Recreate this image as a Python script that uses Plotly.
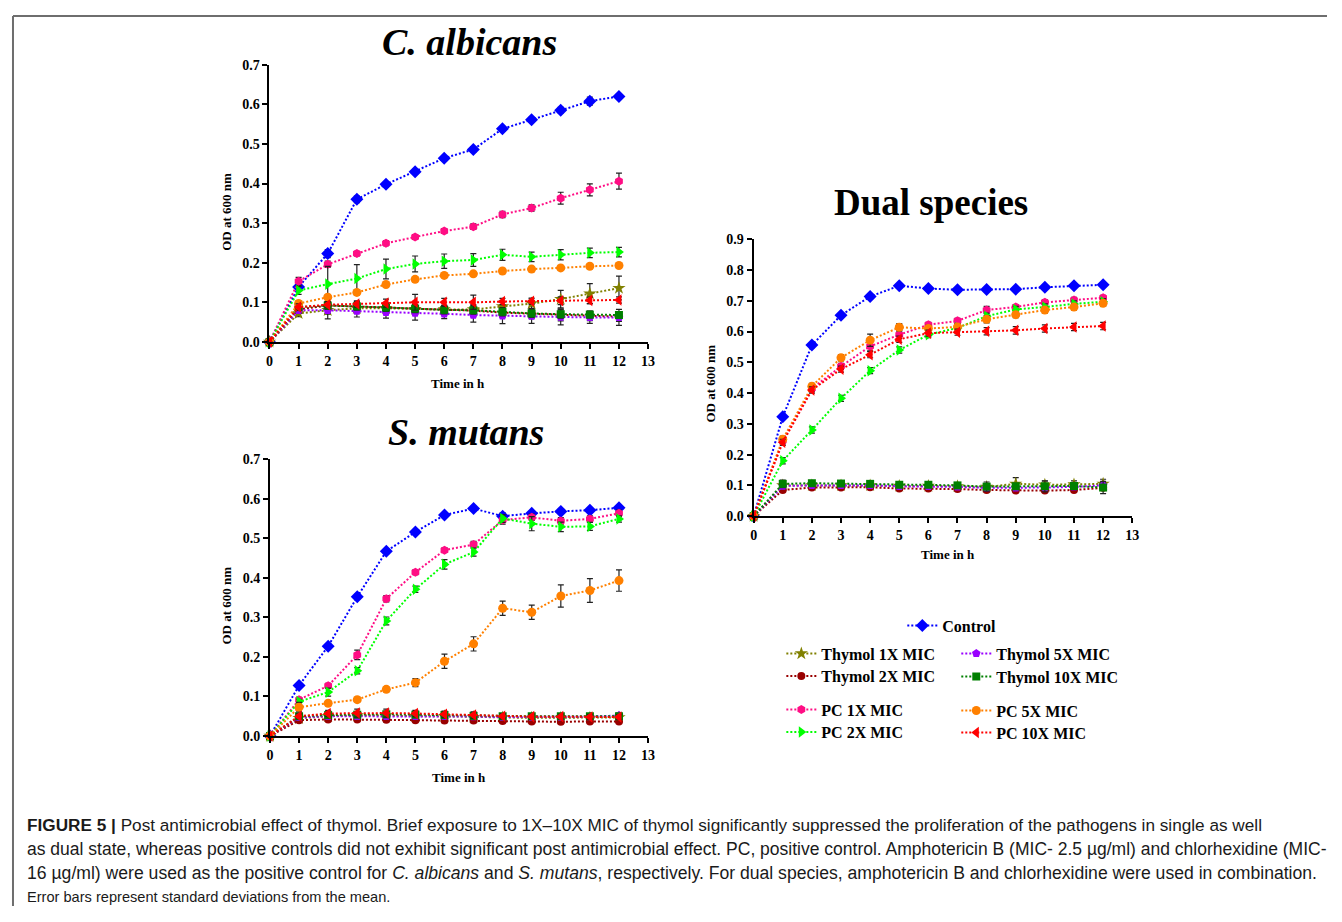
import plotly.graph_objects as go

# ---------------- data ----------------
time_h = [0, 1, 2, 3, 4, 5, 6, 7, 8, 9, 10, 11, 12]
x_ticks = [0, 1, 2, 3, 4, 5, 6, 7, 8, 9, 10, 11, 12, 13]

series_names = ["Control", "Thymol 1X MIC", "Thymol 2X MIC", "Thymol 5X MIC", "Thymol 10X MIC",
                "PC 1X MIC", "PC 2X MIC", "PC 5X MIC", "PC 10X MIC"]

# C. albicans
ca_control = [0, 0.139, 0.223, 0.360, 0.398, 0.430, 0.464, 0.486, 0.538, 0.561, 0.585, 0.608, 0.620]
ca_control_sd = [0, 0.005, 0.010, 0.008, 0.007, 0.006, 0.006, 0.007, 0.006, 0.006, 0.007, 0.010, 0.007]
ca_thy1 = [0, 0.072, 0.080, 0.085, 0.085, 0.083, 0.082, 0.082, 0.090, 0.097, 0.108, 0.122, 0.136]
ca_thy1_sd = [0, 0.008, 0.010, 0.010, 0.010, 0.010, 0.010, 0.010, 0.010, 0.012, 0.022, 0.025, 0.030]
ca_thy2 = [0, 0.082, 0.092, 0.090, 0.087, 0.084, 0.081, 0.079, 0.074, 0.071, 0.068, 0.066, 0.064]
ca_thy2_sd = [0, 0.010, 0.020, 0.012, 0.012, 0.015, 0.012, 0.015, 0.012, 0.012, 0.015, 0.012, 0.012]
ca_thy5 = [0, 0.080, 0.080, 0.078, 0.075, 0.073, 0.071, 0.068, 0.066, 0.065, 0.063, 0.062, 0.062]
ca_thy5_sd = [0, 0.008, 0.022, 0.015, 0.015, 0.018, 0.012, 0.018, 0.020, 0.018, 0.020, 0.015, 0.020]
ca_thy10 = [0, 0.088, 0.092, 0.090, 0.087, 0.084, 0.081, 0.080, 0.076, 0.072, 0.070, 0.069, 0.068]
ca_thy10_sd = [0, 0.008, 0.010, 0.010, 0.010, 0.010, 0.010, 0.010, 0.010, 0.010, 0.010, 0.008, 0.008]
ca_pc1 = [0, 0.153, 0.196, 0.223, 0.249, 0.265, 0.280, 0.291, 0.322, 0.338, 0.363, 0.384, 0.406]
ca_pc1_sd = [0, 0.010, 0.008, 0.006, 0.006, 0.006, 0.006, 0.007, 0.008, 0.008, 0.015, 0.015, 0.020]
ca_pc2 = [0, 0.130, 0.146, 0.160, 0.184, 0.197, 0.204, 0.207, 0.220, 0.215, 0.220, 0.225, 0.227]
ca_pc2_sd = [0, 0.010, 0.045, 0.035, 0.025, 0.020, 0.018, 0.016, 0.014, 0.012, 0.013, 0.012, 0.012]
ca_pc5 = [0, 0.097, 0.113, 0.125, 0.145, 0.158, 0.168, 0.172, 0.179, 0.184, 0.187, 0.191, 0.193]
ca_pc5_sd = [0, 0.006, 0.006, 0.006, 0.006, 0.006, 0.005, 0.005, 0.005, 0.005, 0.005, 0.005, 0.005]
ca_pc10 = [0, 0.088, 0.094, 0.096, 0.098, 0.100, 0.100, 0.100, 0.102, 0.103, 0.104, 0.105, 0.106]
ca_pc10_sd = [0, 0.008, 0.008, 0.008, 0.010, 0.020, 0.010, 0.018, 0.008, 0.008, 0.010, 0.008, 0.008]

# S. mutans
sm_control = [0, 0.128, 0.227, 0.352, 0.467, 0.516, 0.559, 0.575, 0.556, 0.563, 0.568, 0.571, 0.577]
sm_control_sd = [0, 0.005, 0.006, 0.006, 0.006, 0.005, 0.005, 0.006, 0.008, 0.006, 0.005, 0.005, 0.005]
sm_thy1 = [0, 0.045, 0.050, 0.052, 0.052, 0.050, 0.050, 0.048, 0.047, 0.046, 0.046, 0.046, 0.047]
sm_thy1_sd = [0, 0.006, 0.008, 0.008, 0.010, 0.008, 0.008, 0.008, 0.006, 0.006, 0.006, 0.006, 0.006]
sm_thy2 = [0, 0.040, 0.042, 0.042, 0.041, 0.040, 0.039, 0.039, 0.038, 0.037, 0.036, 0.037, 0.037]
sm_thy2_sd = [0, 0.005, 0.005, 0.005, 0.005, 0.005, 0.005, 0.005, 0.005, 0.005, 0.005, 0.005, 0.005]
sm_thy5 = [0, 0.047, 0.050, 0.050, 0.050, 0.050, 0.050, 0.049, 0.048, 0.048, 0.048, 0.049, 0.052]
sm_thy5_sd = [0, 0.006, 0.006, 0.006, 0.006, 0.006, 0.006, 0.006, 0.006, 0.006, 0.006, 0.006, 0.006]
sm_thy10 = [0, 0.050, 0.053, 0.054, 0.055, 0.054, 0.053, 0.051, 0.050, 0.050, 0.050, 0.050, 0.050]
sm_thy10_sd = [0, 0.006, 0.006, 0.006, 0.006, 0.006, 0.006, 0.006, 0.006, 0.006, 0.006, 0.006, 0.006]
sm_pc1 = [0, 0.092, 0.127, 0.205, 0.347, 0.414, 0.470, 0.484, 0.546, 0.553, 0.544, 0.549, 0.563]
sm_pc1_sd = [0, 0.006, 0.006, 0.012, 0.008, 0.006, 0.006, 0.008, 0.010, 0.008, 0.008, 0.008, 0.008]
sm_pc2 = [0, 0.087, 0.111, 0.165, 0.291, 0.371, 0.434, 0.465, 0.550, 0.537, 0.529, 0.530, 0.549]
sm_pc2_sd = [0, 0.006, 0.010, 0.008, 0.010, 0.008, 0.012, 0.010, 0.010, 0.018, 0.012, 0.010, 0.008]
sm_pc5 = [0, 0.073, 0.083, 0.092, 0.118, 0.135, 0.189, 0.233, 0.323, 0.313, 0.354, 0.368, 0.393]
sm_pc5_sd = [0, 0.012, 0.006, 0.006, 0.006, 0.010, 0.018, 0.018, 0.018, 0.018, 0.028, 0.030, 0.027]
sm_pc10 = [0, 0.050, 0.057, 0.058, 0.058, 0.057, 0.055, 0.053, 0.050, 0.049, 0.049, 0.048, 0.048]
sm_pc10_sd = [0, 0.006, 0.008, 0.010, 0.010, 0.008, 0.008, 0.008, 0.006, 0.006, 0.006, 0.006, 0.006]

# Dual species
ds_control = [0, 0.323, 0.556, 0.653, 0.714, 0.749, 0.740, 0.736, 0.737, 0.738, 0.744, 0.749, 0.752]
ds_control_sd = [0, 0.008, 0.008, 0.006, 0.008, 0.006, 0.006, 0.006, 0.006, 0.006, 0.006, 0.006, 0.006]
ds_thy1 = [0, 0.100, 0.100, 0.100, 0.100, 0.098, 0.098, 0.097, 0.095, 0.105, 0.102, 0.103, 0.105]
ds_thy1_sd = [0, 0.010, 0.008, 0.008, 0.008, 0.008, 0.008, 0.008, 0.010, 0.020, 0.012, 0.012, 0.015]
ds_thy2 = [0, 0.085, 0.093, 0.093, 0.094, 0.090, 0.090, 0.088, 0.085, 0.083, 0.083, 0.085, 0.092]
ds_thy2_sd = [0, 0.006, 0.006, 0.006, 0.006, 0.006, 0.006, 0.006, 0.006, 0.006, 0.006, 0.006, 0.006]
ds_thy5 = [0, 0.098, 0.100, 0.100, 0.100, 0.097, 0.097, 0.095, 0.092, 0.092, 0.093, 0.095, 0.100]
ds_thy5_sd = [0, 0.008, 0.008, 0.008, 0.008, 0.008, 0.008, 0.008, 0.008, 0.008, 0.008, 0.008, 0.008]
ds_thy10 = [0, 0.105, 0.107, 0.106, 0.105, 0.102, 0.102, 0.100, 0.096, 0.097, 0.097, 0.098, 0.093]
ds_thy10_sd = [0, 0.012, 0.008, 0.008, 0.008, 0.008, 0.008, 0.008, 0.015, 0.010, 0.018, 0.012, 0.020]
ds_pc1 = [0, 0.245, 0.415, 0.487, 0.552, 0.590, 0.622, 0.635, 0.670, 0.680, 0.695, 0.703, 0.710]
ds_pc1_sd = [0, 0.010, 0.010, 0.010, 0.015, 0.012, 0.008, 0.008, 0.012, 0.008, 0.008, 0.008, 0.008]
ds_pc2 = [0, 0.180, 0.280, 0.383, 0.473, 0.540, 0.590, 0.612, 0.650, 0.672, 0.680, 0.690, 0.697]
ds_pc2_sd = [0, 0.010, 0.010, 0.010, 0.010, 0.010, 0.010, 0.010, 0.010, 0.010, 0.010, 0.010, 0.010]
ds_pc5 = [0, 0.250, 0.422, 0.515, 0.572, 0.614, 0.610, 0.615, 0.640, 0.655, 0.670, 0.680, 0.692]
ds_pc5_sd = [0, 0.010, 0.010, 0.010, 0.020, 0.012, 0.010, 0.010, 0.012, 0.010, 0.010, 0.010, 0.010]
ds_pc10 = [0, 0.240, 0.410, 0.478, 0.525, 0.575, 0.595, 0.598, 0.601, 0.604, 0.610, 0.615, 0.618]
ds_pc10_sd = [0, 0.010, 0.010, 0.010, 0.010, 0.010, 0.010, 0.010, 0.012, 0.012, 0.012, 0.012, 0.012]

panel_titles = ["<b><i>C. albicans</i></b>", "<b><i>S. mutans</i></b>", "<b>Dual species</b>"]
x_title = "Time in h"
y_title = "OD at 600 nm"
caption_lines = [
    "<b>FIGURE 5 |</b> Post antimicrobial effect of thymol. Brief exposure to 1X–10X MIC of thymol significantly suppressed the proliferation of the pathogens in single as well",
    "as dual state, whereas positive controls did not exhibit significant post antimicrobial effect. PC, positive control. Amphotericin B (MIC- 2.5 µg/ml) and chlorhexidine (MIC-",
    "16 µg/ml) were used as the positive control for <i>C. albicans</i> and <i>S. mutans</i>, respectively. For dual species, amphotericin B and chlorhexidine were used in combination.",
    "Error bars represent standard deviations from the mean.",
]

# ---------------- styles / layout (target pixels of the reference) ----------------
colors = ["#0000FF", "#808000", "#990000", "#9900FF", "#008000",
          "#FF0D84", "#00FF00", "#FF8000", "#FF0000"]
symbols = ["diamond", "star", "circle", "pentagon", "square",
           "hexagon", "triangle-right", "circle", "triangle-left"]
sizes = [10, 10, 8, 9, 8, 9, 10, 9, 10]
# legend slots: (text start x, row centre y) in reference pixels
legend_slots = [(941, 625), (820, 653), (820, 675.5), (995, 653), (995, 676),
                (820, 709), (820, 731.5), (995, 710), (995, 732)]

PAGE_W, PAGE_H = 1342, 922
OFF = 8  # body margin of the html page
W, H = PAGE_W - 2 * OFF, PAGE_H - 2 * OFF
# correction for the slight shrink observed in the photographed page
SX, CX = 0.992, 2.5
SY, CY = 0.984, 6.7
SERIF = "Liberation Serif, Times New Roman, serif"
SANS = "Liberation Sans, Arial, sans-serif"


def fx(rx):
    page = (rx - CX) / SX
    return min(max((page - OFF) / W, 0.0), 1.0)


def fy(ry):
    page = (ry - CY) / SY
    return min(max(1 - (page - OFF) / H, 0.0), 1.0)


panels = [
    dict(data=[ca_control, ca_thy1, ca_thy2, ca_thy5, ca_thy10, ca_pc1, ca_pc2, ca_pc5, ca_pc10],
         sd=[ca_control_sd, ca_thy1_sd, ca_thy2_sd, ca_thy5_sd, ca_thy10_sd, ca_pc1_sd, ca_pc2_sd, ca_pc5_sd, ca_pc10_sd],
         box=(268, 646.7, 64.3, 341.7), yr=0.7,
         title_xy=(468, 42), title_size=38, xt_xy=(457, 383), yt_xy=(225, 212)),
    dict(data=[sm_control, sm_thy1, sm_thy2, sm_thy5, sm_thy10, sm_pc1, sm_pc2, sm_pc5, sm_pc10],
         sd=[sm_control_sd, sm_thy1_sd, sm_thy2_sd, sm_thy5_sd, sm_thy10_sd, sm_pc1_sd, sm_pc2_sd, sm_pc5_sd, sm_pc10_sd],
         box=(268.5, 646.7, 459, 736), yr=0.7,
         title_xy=(465, 432), title_size=38, xt_xy=(458, 778), yt_xy=(225, 606)),
    dict(data=[ds_control, ds_thy1, ds_thy2, ds_thy5, ds_thy10, ds_pc1, ds_pc2, ds_pc5, ds_pc10],
         sd=[ds_control_sd, ds_thy1_sd, ds_thy2_sd, ds_thy5_sd, ds_thy10_sd, ds_pc1_sd, ds_pc2_sd, ds_pc5_sd, ds_pc10_sd],
         box=(752.3, 1131, 239, 516), yr=0.9,
         title_xy=(930, 202), title_size=37, xt_xy=(947, 554), yt_xy=(709, 383)),
]

fig = go.Figure()
tick_font = dict(family=SERIF, size=14, color="black", weight="bold")
layout_axes = {}
annotations = []

for p_i, p in enumerate(panels):
    xa = "x" if p_i == 0 else f"x{p_i + 1}"
    ya = "y" if p_i == 0 else f"y{p_i + 1}"
    xkey = "xaxis" if p_i == 0 else f"xaxis{p_i + 1}"
    ykey = "yaxis" if p_i == 0 else f"yaxis{p_i + 1}"
    x0, x1, y0, y1 = p["box"]
    layout_axes[xkey] = dict(domain=[fx(x0), fx(x1)], anchor=ya, range=[0, 13],
                             tickmode="array", tickvals=x_ticks, ticktext=[str(v) for v in x_ticks],
                             showline=True, linecolor="black", linewidth=2,
                             ticks="outside", ticklen=5, tickwidth=2, tickcolor="black",
                             showgrid=False, zeroline=False, tickfont=tick_font, fixedrange=True)
    layout_axes[ykey] = dict(domain=[fy(y1), fy(y0)], anchor=xa, range=[0, p["yr"]],
                             tick0=0, dtick=0.1, tickformat=".1f",
                             showline=True, linecolor="black", linewidth=2,
                             ticks="outside", ticklen=5, tickwidth=2, tickcolor="black",
                             showgrid=False, zeroline=False, tickfont=tick_font, fixedrange=True)
    for s_i, (vals, sd) in enumerate(zip(p["data"], p["sd"])):
        legend_id = "legend" if s_i == 0 else f"legend{s_i + 1}"
        fig.add_trace(go.Scatter(
            x=time_h, y=vals, xaxis=xa, yaxis=ya, mode="lines+markers",
            name=series_names[s_i], legendgroup=series_names[s_i],
            showlegend=(p_i == 0), legend=legend_id,
            line=dict(color=colors[s_i], width=2, dash="2px,2px"),
            marker=dict(symbol=symbols[s_i], size=sizes[s_i], color=colors[s_i], line=dict(width=0)),
            error_y=dict(type="data", array=sd, visible=True, color="#222222", thickness=1.2, width=3),
            cliponaxis=False,
        ))
    tx, ty = p["title_xy"]
    annotations.append(dict(text=panel_titles[p_i], x=fx(tx), y=fy(ty), xref="paper", yref="paper",
                            xanchor="center", yanchor="middle", showarrow=False,
                            font=dict(family=SERIF, size=p["title_size"], color="black")))
    xtx, xty = p["xt_xy"]
    annotations.append(dict(text=f"<b>{x_title}</b>", x=fx(xtx), y=fy(xty), xref="paper", yref="paper",
                            xanchor="center", yanchor="middle", showarrow=False,
                            font=dict(family=SERIF, size=13, color="black")))
    ytx, yty = p["yt_xy"]
    annotations.append(dict(text=f"<b>{y_title}</b>", x=fx(ytx), y=fy(yty), xref="paper", yref="paper",
                            xanchor="center", yanchor="middle", showarrow=False, textangle=-90,
                            font=dict(family=SERIF, size=13, color="black")))

# caption
caption_sizes = [17.2, 17.5, 17.6, 14.6]
for i, line in enumerate(caption_lines):
    annotations.append(dict(text=line, x=fx(23), y=fy(825 + 24 * i), xref="paper", yref="paper",
                            xanchor="left", yanchor="middle", showarrow=False, align="left",
                            font=dict(family=SANS, size=caption_sizes[i], color="#1a1a1a")))

legend_font = dict(family=SERIF, size=16, color="black", weight="bold")
legends = {}
for s_i, (tx, ty) in enumerate(legend_slots):
    key = "legend" if s_i == 0 else f"legend{s_i + 1}"
    legends[key] = dict(x=fx(tx - 40), y=fy(ty - 16.5), xanchor="left", yanchor="top",
                        font=legend_font, bgcolor="rgba(0,0,0,0)", borderwidth=0,
                        itemwidth=30, itemclick=False, itemdoubleclick=False)

top_y = min(fy(10.5), 1 - 1.0 / H)
left_x = max(fx(9.5), 1.0 / W)
fig.update_layout(
    width=W, height=H, autosize=False,
    margin=dict(l=0, r=0, t=0, b=0),
    paper_bgcolor="white", plot_bgcolor="white",
    annotations=annotations,
    shapes=[
        dict(type="line", xref="paper", yref="paper", x0=left_x, x1=1, y0=top_y, y1=top_y,
             line=dict(color="#6e6e6e", width=2)),
        dict(type="line", xref="paper", yref="paper", x0=left_x, x1=left_x, y0=top_y, y1=0,
             line=dict(color="#6e6e6e", width=2)),
    ],
    **legends,
    **layout_axes,
)

fig.write_html("out.html", config={"displayModeBar": False})
